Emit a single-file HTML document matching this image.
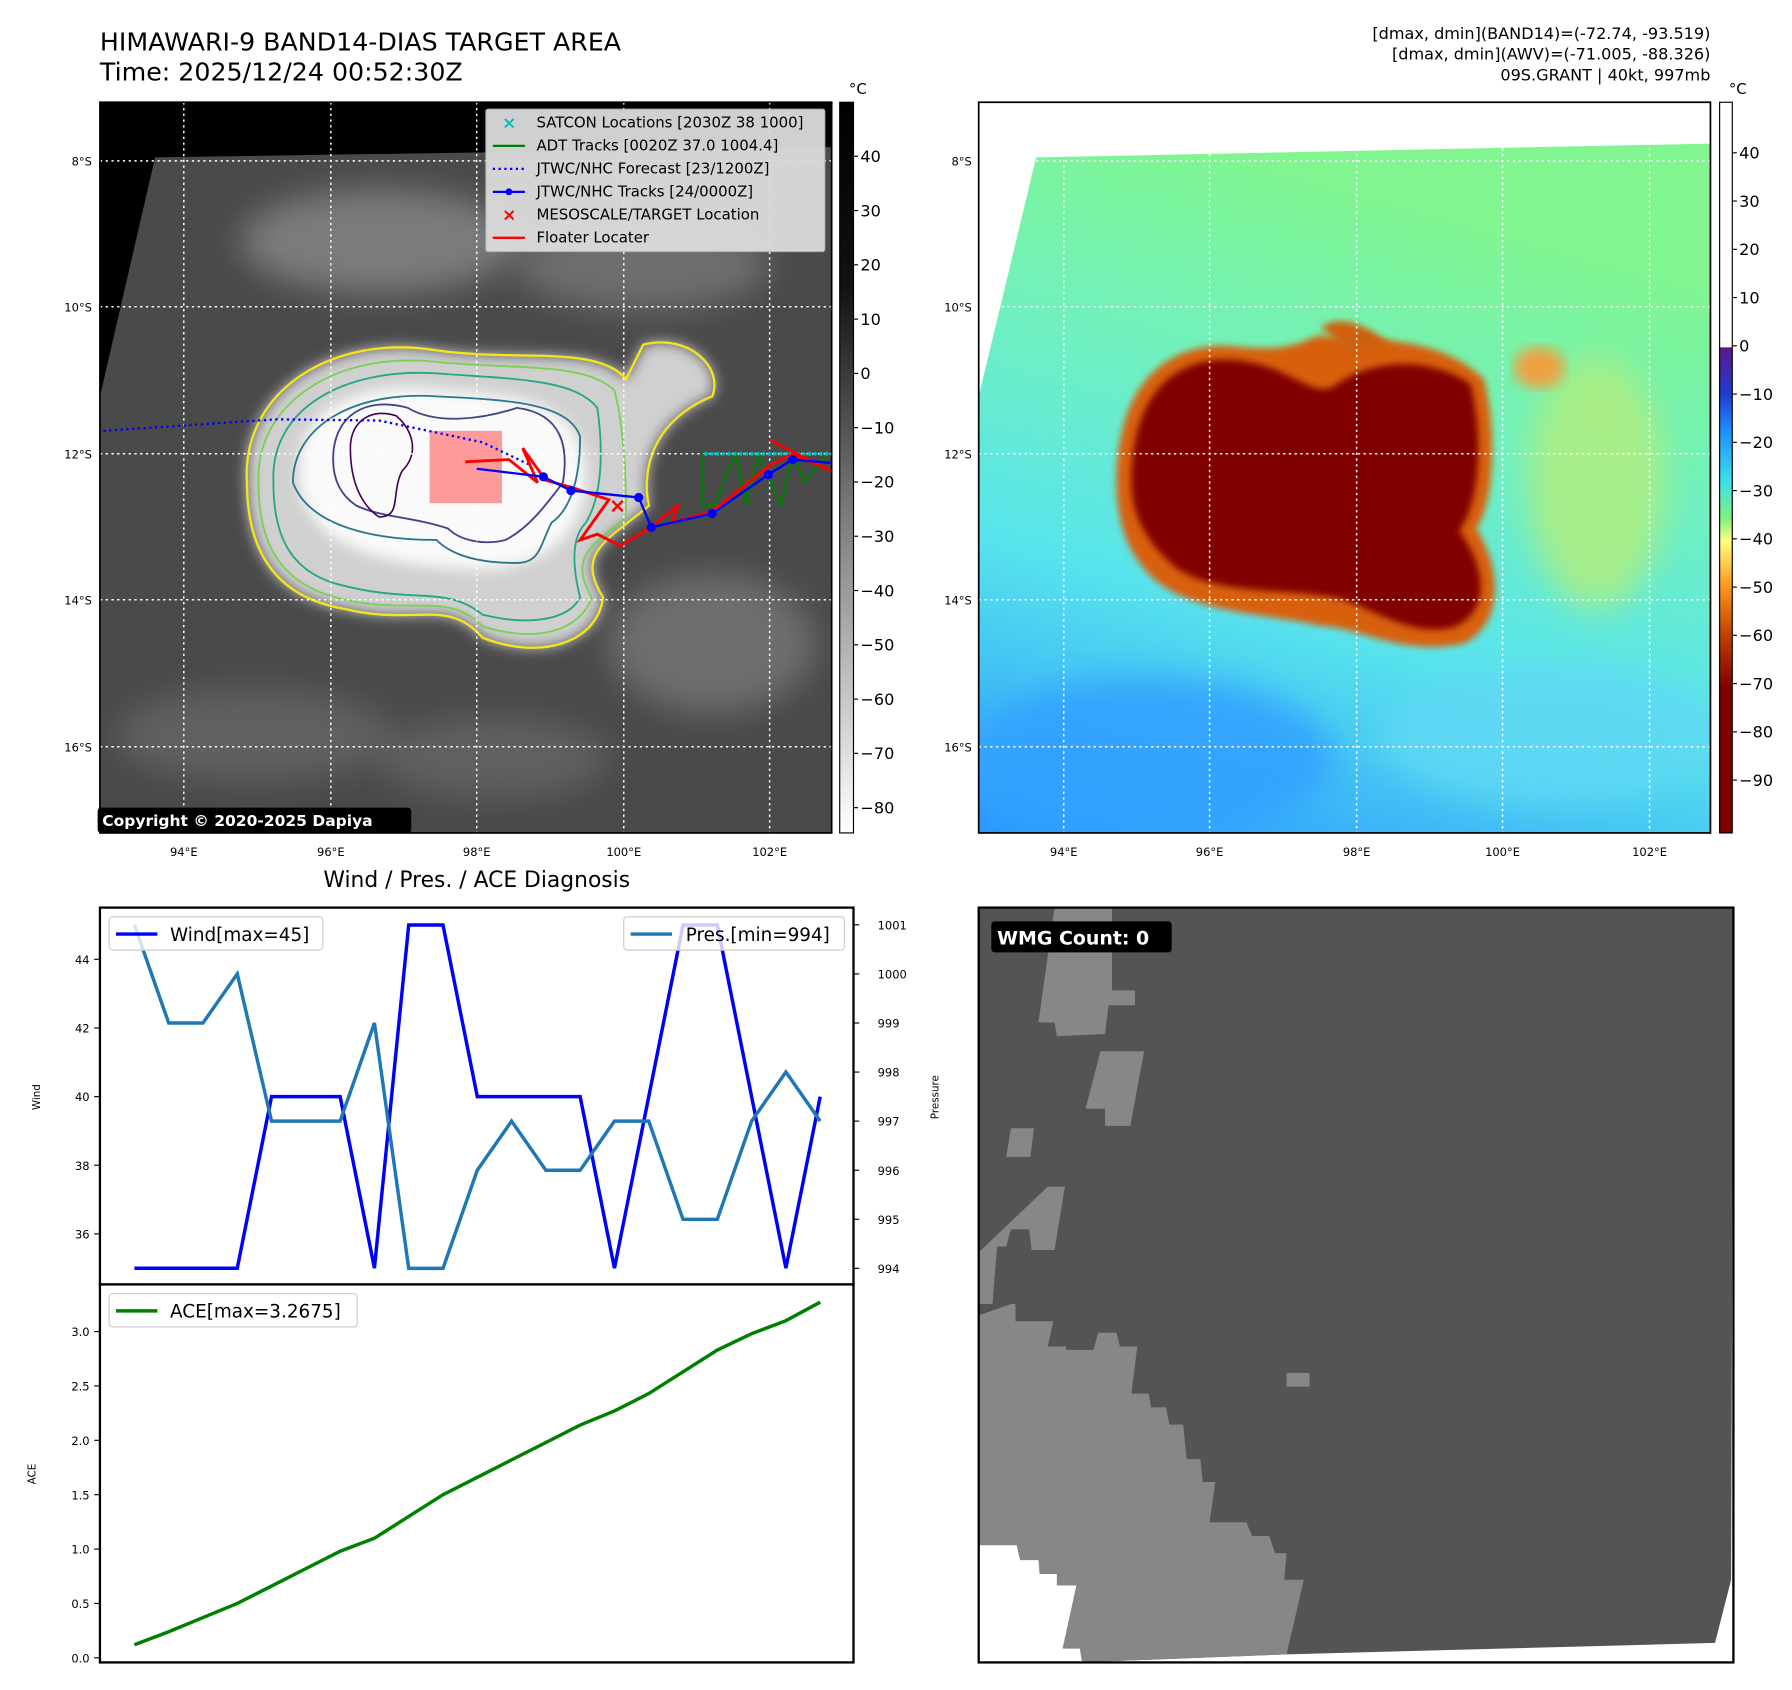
<!DOCTYPE html>
<html><head><meta charset="utf-8"><style>
html,body{margin:0;padding:0;background:#fff;}
svg{display:block;font-family:"DejaVu Sans","Liberation Sans",sans-serif;}
</style></head><body>
<svg id="root" width="1792" height="1690" viewBox="0 0 1560 1471" preserveAspectRatio="none" xmlns="http://www.w3.org/2000/svg">
<defs>
<filter id="blur6"><feGaussianBlur stdDeviation="6"/></filter>
<filter id="blur14"><feGaussianBlur stdDeviation="14"/></filter>
<filter id="blur3"><feGaussianBlur stdDeviation="3"/></filter>
<linearGradient id="gcb" x1="0" y1="0" x2="0" y2="1"><stop offset="0" stop-color="#000"/><stop offset="0.25" stop-color="#111"/><stop offset="0.55" stop-color="#777"/><stop offset="1" stop-color="#fff"/></linearGradient>
<linearGradient id="ccb" x1="0" y1="0" x2="0" y2="1">
<stop offset="0" stop-color="#fff"/><stop offset="0.335" stop-color="#fff"/><stop offset="0.336" stop-color="#5a1a8a"/><stop offset="0.4" stop-color="#1e3cd0"/><stop offset="0.45" stop-color="#1e90ff"/><stop offset="0.52" stop-color="#40e0e8"/><stop offset="0.57" stop-color="#80f080"/><stop offset="0.6" stop-color="#ffff80"/><stop offset="0.66" stop-color="#ff9a20"/><stop offset="0.73" stop-color="#c04000"/><stop offset="0.8" stop-color="#800000"/><stop offset="1" stop-color="#800000"/></linearGradient>
<linearGradient id="grn" x1="0.3" y1="0" x2="0" y2="1"><stop offset="0" stop-color="#80f590"/><stop offset="0.3" stop-color="#70f0c0"/><stop offset="0.6" stop-color="#58e4ec"/><stop offset="1" stop-color="#2a98ff"/></linearGradient>
<clipPath id="clipL"><rect x="87" y="89" width="637" height="636"/></clipPath>
<clipPath id="clipR"><rect x="852" y="89" width="637" height="636"/></clipPath>
</defs>

<text x="87" y="44" font-size="22">HIMAWARI-9 BAND14-DIAS TARGET AREA</text>
<text x="87" y="70" font-size="22">Time: 2025/12/24 00:52:30Z</text>
<g font-size="14" text-anchor="end">
<text x="1489" y="34">[dmax, dmin](BAND14)=(-72.74, -93.519)</text>
<text x="1489" y="52">[dmax, dmin](AWV)=(-71.005, -88.326)</text>
<text x="1489" y="70">09S.GRANT | 40kt, 997mb</text>
</g>

<!-- LEFT MAP -->
<g clip-path="url(#clipL)">
<rect x="87" y="89" width="637" height="636" fill="#000"/>
<polygon points="87,345 135,137 724,128 724,725 87,725" fill="#4a4a4a"/>
<g filter="url(#blur14)" opacity="0.8">
<ellipse cx="330" cy="210" rx="120" ry="45" fill="#888"/>
<ellipse cx="560" cy="230" rx="110" ry="40" fill="#777"/>
<ellipse cx="620" cy="560" rx="90" ry="60" fill="#777"/>
<ellipse cx="220" cy="640" rx="120" ry="40" fill="#666"/>
<ellipse cx="430" cy="660" rx="100" ry="35" fill="#666"/>
</g>
<path filter="url(#blur6)" d="M215,420 C210,340 290,290 380,305 C450,315 520,300 545,330 L560,300 C600,290 630,320 620,345 C560,370 560,420 565,440 C530,470 500,480 525,520 C520,560 470,575 420,555 C390,520 360,545 300,530 C240,520 215,480 215,420 Z" fill="#d0d0d0"/>
<path filter="url(#blur6)" d="M260,410 C260,350 320,330 390,340 C460,345 510,350 510,420 C505,470 470,500 400,495 C320,490 260,470 260,410 Z" fill="#fafafa"/>
<path d="M215,420 C210,340 290,290 380,305 C450,315 520,300 545,330 L560,300 C600,290 630,320 620,345 C560,370 560,420 565,440 C530,470 500,480 525,520 C520,560 470,575 420,555 C390,520 360,545 300,530 C240,520 215,480 215,420 Z" fill="none" stroke="#f5e51b" stroke-width="2"/>
<path d="M225,420 C222,350 295,305 380,315 C450,322 510,315 535,340 C545,380 545,430 545,450 C515,475 495,485 515,520 C505,550 465,560 420,545 C390,515 360,535 300,522 C245,510 225,475 225,420 Z" fill="none" stroke="#7ad151" stroke-width="1.6"/>
<path d="M238,420 C235,355 300,320 380,325 C450,330 500,330 520,355 C525,390 525,430 510,455 C495,470 500,500 505,520 C495,540 460,545 420,535 C390,510 360,525 300,510 C255,500 238,470 238,420 Z" fill="none" stroke="#22a884" stroke-width="1.6"/>
<path d="M255,420 C255,370 310,340 380,345 C440,348 495,350 505,380 C505,420 495,445 480,455 C470,475 470,490 450,490 C420,490 395,485 380,470 C330,470 270,460 255,420 Z" fill="none" stroke="#2a788e" stroke-width="1.6"/>
<path d="M290,400 C290,360 320,345 355,355 C380,370 420,365 450,355 C490,360 495,390 490,420 C475,440 460,460 440,470 C420,475 400,470 390,460 C360,450 330,450 310,440 C295,430 290,415 290,400 Z" fill="none" stroke="#414487" stroke-width="1.6"/>
<path d="M305,390 C305,365 325,355 345,362 C360,375 365,395 350,410 C340,430 350,450 330,450 C315,440 305,420 305,390 Z" fill="none" stroke="#440154" stroke-width="1.4"/>
<g stroke="#fff" stroke-width="1.3" stroke-dasharray="2,3">
<line x1="87" y1="140" x2="724" y2="140"/><line x1="87" y1="267" x2="724" y2="267"/><line x1="87" y1="395" x2="724" y2="395"/><line x1="87" y1="522" x2="724" y2="522"/><line x1="87" y1="650" x2="724" y2="650"/>
<line x1="160" y1="89" x2="160" y2="725"/><line x1="288" y1="89" x2="288" y2="725"/><line x1="415" y1="89" x2="415" y2="725"/><line x1="543" y1="89" x2="543" y2="725"/><line x1="670" y1="89" x2="670" y2="725"/>
</g>
<rect x="374" y="375" width="63" height="63" fill="#ff9a9a"/>
<polyline points="90,375 240,365 330,366 420,385 462,405" fill="none" stroke="#0000ff" stroke-width="2" stroke-dasharray="2,3"/>
<polyline points="612,395 612,440 622,440 640,395 650,440 660,395 680,440 690,395 700,420 720,395 M500,420 480,480" fill="none" stroke="#008000" stroke-width="2"/>
<polyline points="613,395 630,395 645,395 670,395 724,395" fill="none" stroke="#00c0c0" stroke-width="3" stroke-dasharray="3,2"/>
<polyline points="405,402 443,400 468,420 455,390 475,418 500,425 530,435 505,470 520,465 540,475 565,460 590,440 585,455 620,445 670,405 690,395 724,410 670,383" fill="none" stroke="#ff0000" stroke-width="2.5"/>
<polyline points="415,408 473,415 497,427 556,433 567,459 620,447 669,413 690,400 724,403" fill="none" stroke="#0000ff" stroke-width="2"/>
<g fill="#0000ff"><circle cx="473" cy="415" r="4"/><circle cx="497" cy="427" r="4"/><circle cx="556" cy="433" r="4"/><circle cx="567" cy="459" r="4"/><circle cx="620" cy="447" r="4"/><circle cx="669" cy="413" r="4"/><circle cx="690" cy="400" r="4"/></g>
<text x="530" y="446" fill="#ff0000" font-size="18" font-weight="bold">×</text>
</g>
<rect x="87" y="89" width="637" height="636" fill="none" stroke="#000" stroke-width="1.5"/>
<g font-size="13">
<rect x="423" y="95" width="295" height="124" fill="#dcdcdc" stroke="#bbb" rx="2" opacity="0.95"/>
<text x="437" y="112" fill="#00bfbf" font-weight="bold" font-size="15">×</text><text x="467" y="111">SATCON Locations [2030Z 38 1000]</text>
<line x1="429" y1="127" x2="457" y2="127" stroke="#008000" stroke-width="2"/><text x="467" y="131">ADT Tracks [0020Z 37.0 1004.4]</text>
<line x1="429" y1="147" x2="457" y2="147" stroke="#0000ff" stroke-width="2" stroke-dasharray="2,3"/><text x="467" y="151">JTWC/NHC Forecast [23/1200Z]</text>
<line x1="429" y1="167" x2="457" y2="167" stroke="#0000ff" stroke-width="2"/><circle cx="443" cy="167" r="3" fill="#0000ff"/><text x="467" y="171">JTWC/NHC Tracks [24/0000Z]</text>
<text x="437" y="192" fill="#ff0000" font-weight="bold" font-size="15">×</text><text x="467" y="191">MESOSCALE/TARGET Location</text>
<line x1="429" y1="207" x2="457" y2="207" stroke="#ff0000" stroke-width="2"/><text x="467" y="211">Floater Locater</text>
</g>
<g><rect x="85" y="703" width="273" height="22" rx="3" fill="#000"/><text x="89" y="719" fill="#fff" font-size="13.5" font-weight="bold">Copyright © 2020-2025 Dapiya</text></g>
<g font-size="10">
<g text-anchor="end"><text x="80" y="144">8°S</text><text x="80" y="271">10°S</text><text x="80" y="399">12°S</text><text x="80" y="526">14°S</text><text x="80" y="654">16°S</text></g>
<g text-anchor="middle"><text x="160" y="745">94°E</text><text x="288" y="745">96°E</text><text x="415" y="745">98°E</text><text x="543" y="745">100°E</text><text x="670" y="745">102°E</text></g>
</g>
<g>
<rect x="731" y="89" width="12" height="636" fill="url(#gcb)" stroke="#000" stroke-width="1"/>
<text x="739" y="82" font-size="13">°C</text>
<g font-size="14" id="gticks"></g>
</g>

<!-- RIGHT MAP -->
<g clip-path="url(#clipR)">
<rect x="852" y="89" width="637" height="636" fill="#fff"/>
<polygon points="852,345 902,137 1489,125 1489,725 852,725" fill="url(#grn)"/>
<g filter="url(#blur14)" opacity="0.85">
<ellipse cx="1000" cy="660" rx="160" ry="70" fill="#30a0ff"/>
<ellipse cx="1350" cy="640" rx="150" ry="60" fill="#60d8f4"/>
<ellipse cx="1390" cy="420" rx="60" ry="110" fill="#b0ee80"/>
</g>
<path filter="url(#blur3)" d="M972,420 C972,320 1030,295 1080,302 C1130,307 1140,292 1150,292 C1190,297 1250,290 1292,330 C1304,380 1300,440 1285,460 C1305,490 1312,540 1275,560 C1220,572 1180,545 1150,545 C1110,535 1050,535 1012,510 C985,490 972,460 972,420 Z" fill="#d86010"/>
<path d="M1150,285 C1170,270 1200,290 1210,300 L1180,310 Z" fill="#d06010" filter="url(#blur3)"/>
<ellipse cx="1340" cy="320" rx="22" ry="18" fill="#f0a040" filter="url(#blur6)"/>
<path filter="url(#blur3)" d="M985,420 C985,330 1035,308 1080,314 C1125,320 1140,345 1160,337 C1190,314 1240,308 1280,334 C1292,380 1288,440 1270,462 C1292,490 1300,532 1265,546 C1225,556 1190,525 1160,520 C1120,512 1060,518 1025,495 C1000,475 985,450 985,420 Z" fill="#800000"/>
<g stroke="#fff" stroke-width="1.3" stroke-dasharray="2,3">
<line x1="852" y1="140" x2="1489" y2="140"/><line x1="852" y1="267" x2="1489" y2="267"/><line x1="852" y1="395" x2="1489" y2="395"/><line x1="852" y1="522" x2="1489" y2="522"/><line x1="852" y1="650" x2="1489" y2="650"/>
<line x1="926" y1="89" x2="926" y2="725"/><line x1="1053" y1="89" x2="1053" y2="725"/><line x1="1181" y1="89" x2="1181" y2="725"/><line x1="1308" y1="89" x2="1308" y2="725"/><line x1="1436" y1="89" x2="1436" y2="725"/>
</g>
</g>
<rect x="852" y="89" width="637" height="636" fill="none" stroke="#000" stroke-width="1.5"/>
<g font-size="10">
<g text-anchor="end"><text x="846" y="144">8°S</text><text x="846" y="271">10°S</text><text x="846" y="399">12°S</text><text x="846" y="526">14°S</text><text x="846" y="654">16°S</text></g>
<g text-anchor="middle"><text x="926" y="745">94°E</text><text x="1053" y="745">96°E</text><text x="1181" y="745">98°E</text><text x="1308" y="745">100°E</text><text x="1436" y="745">102°E</text></g>
</g>
<g>
<rect x="1497" y="89" width="11" height="636" fill="url(#ccb)" stroke="#000" stroke-width="1"/>
<text x="1505" y="82" font-size="13">°C</text>
<g font-size="14" id="cticks"></g>
</g>

<!-- WIND / PRES CHART -->
<text x="415" y="772" font-size="19" text-anchor="middle">Wind / Pres. / ACE Diagnosis</text>
<g id="windchart"></g>
<g id="acechart"></g>

<!-- WMG PANEL -->
<g>
<rect x="852" y="790" width="657" height="657" fill="#fff"/>
<polygon points="852,790 1509,790 1507,1375 1493,1430 1120,1440 940,1447 852,1447" fill="#545454"/>
<g fill="#878787">
<polygon points="918,790 968,790 968,862 988,862 988,875 965,875 962,900 920,902 918,890 904,890"/>
<polygon points="958,915 996,915 984,980 962,980 962,965 945,965"/>
<polygon points="880,982 900,982 897,1007 876,1007"/>
<polygon points="912,1033 927,1033 918,1088 898,1088 896,1070 880,1070 876,1085 868,1085 864,1135 852,1135 852,1090"/>
<polygon points="852,1145 880,1135 884,1135 884,1150 917,1150 912,1172 928,1172 928,1175 952,1175 956,1160 972,1160 975,1172 990,1172 985,1213 1000,1213 1002,1225 1015,1225 1018,1240 1030,1240 1033,1270 1045,1270 1047,1290 1058,1290 1053,1325 1085,1325 1090,1337 1105,1337 1110,1352 1120,1352 1118,1375 1135,1375 1120,1440 940,1447 852,1447"/>
<rect x="1120" y="1195" width="20" height="12"/>
</g>
<polygon points="852,1345 885,1345 888,1358 904,1358 905,1370 920,1370 920,1380 937,1380 925,1435 940,1435 942,1447 852,1447" fill="#fff"/>
<rect x="852" y="790" width="657" height="657" fill="none" stroke="#000" stroke-width="2"/>
<rect x="863" y="802" width="157" height="27" rx="3" fill="#000"/>
<text x="868" y="822" fill="#fff" font-size="16.5" font-weight="bold">WMG Count: 0</text>
</g>

<script>
var NS="http://www.w3.org/2000/svg";
// ---- chart data ----
var windValues=[35,35,35,35,40,40,40,35,45,45,40,40,40,40,35,40,45,45,40,35,40];
var presValues=[1001,999,999,1000,997,997,997,999,994,994,996,997,996,996,997,997,995,995,997,998,997];
var aceValues=[0.12,0.24,0.37,0.5,0.66,0.82,0.98,1.1,1.3,1.5,1.66,1.82,1.98,2.14,2.27,2.43,2.63,2.83,2.98,3.1,3.27];
var windTicks=[36,38,40,42,44];
var presTicks=[994,995,996,997,998,999,1000,1001];
var aceTicks=[0.0,0.5,1.0,1.5,2.0,2.5,3.0];
var grayTicks=[40,30,20,10,0,-10,-20,-30,-40,-50,-60,-70,-80];
var colorTicks=[40,30,20,10,0,-10,-20,-30,-40,-50,-60,-70,-80,-90];

function mk(p,tag,attrs,txt){var e=document.createElementNS(NS,tag);for(var k in attrs)e.setAttribute(k,attrs[k]);if(txt!==undefined)e.textContent=txt;p.appendChild(e);return e;}
function xIdx(i){return 117+i*(714-117)/(windValues.length-1);}
function yWind(v){return 1074-(v-36)*(1074-835)/8;}
function yPres(v){return 1104-(v-994)*(1104-805)/7;}
function yAce(v){return 1443-v*(1443-1159)/3;}
function yGray(v){return 136+(40-v)*(703-136)/120;}
function yColor(v){return 301-v*(301-133)/40;}

var gt=document.getElementById('gticks');
grayTicks.forEach(function(v){var y=yGray(v);
 var l=mk(gt,'line',{x1:743,x2:747,y1:y,y2:y,stroke:'#000'});
 
 
 var t=mk(gt,'text',{x:749,y:y+5},(v<0?'\u2212'+(-v):''+v));
 
 });
var ct=document.getElementById('cticks');
colorTicks.forEach(function(v){var y=yColor(v);
 var l=mk(ct,'line',{x1:1508,x2:1512,y1:y,y2:y,stroke:'#000'});
 
 
 var t=mk(ct,'text',{x:1514,y:y+5},(v<0?'\u2212'+(-v):''+v));
 
 });

var wc=document.getElementById('windchart');
mk(wc,'rect',{x:87,y:790,width:656,height:328,fill:'#fff',stroke:'#000','stroke-width':2});
windTicks.forEach(function(v){var y=yWind(v);mk(wc,'line',{x1:82,x2:87,y1:y,y2:y,stroke:'#000'});
 var t=mk(wc,'text',{x:78,y:y+4,'font-size':10,'text-anchor':'end'},v);
 
 });
presTicks.forEach(function(v){var y=yPres(v);mk(wc,'line',{x1:743,x2:748,y1:y,y2:y,stroke:'#000'});
 var t=mk(wc,'text',{x:764,y:y+4,'font-size':10},v);
 
 });
var yl=mk(wc,'text',{x:0,y:0,'font-size':9,'text-anchor':'middle',transform:'translate(35,955) rotate(-90)'},'Wind');


var yp=mk(wc,'text',{x:0,y:0,'font-size':9,'text-anchor':'middle',transform:'translate(817,955) rotate(-90)'},'Pressure');


var wp=mk(wc,'polyline',{points:windValues.map(function(v,i){return xIdx(i)+','+yWind(v);}).join(' '),fill:'none',stroke:'#0000ff','stroke-width':3});


var pp=mk(wc,'polyline',{points:presValues.map(function(v,i){return xIdx(i)+','+yPres(v);}).join(' '),fill:'none',stroke:'#1f77b4','stroke-width':3});


var lg1=mk(wc,'g',{});


mk(lg1,'rect',{x:95,y:798,width:186,height:29,fill:'#fff',stroke:'#ccc','fill-opacity':0.8,rx:3});
mk(lg1,'line',{x1:101,x2:137,y1:813,y2:813,stroke:'#0000ff','stroke-width':3});
mk(lg1,'text',{x:148,y:819,'font-size':16},'Wind[max='+Math.max.apply(null,windValues)+']');
var lg2=mk(wc,'g',{});


mk(lg2,'rect',{x:543,y:798,width:192,height:29,fill:'#fff',stroke:'#ccc','fill-opacity':0.8,rx:3});
mk(lg2,'line',{x1:549,x2:585,y1:813,y2:813,stroke:'#1f77b4','stroke-width':3});
mk(lg2,'text',{x:597,y:819,'font-size':16},'Pres.[min='+Math.min.apply(null,presValues)+']');

var ac=document.getElementById('acechart');
mk(ac,'rect',{x:87,y:1118,width:656,height:329,fill:'#fff',stroke:'#000','stroke-width':2});
aceTicks.forEach(function(v){var y=yAce(v);mk(ac,'line',{x1:82,x2:87,y1:y,y2:y,stroke:'#000'});
 var t=mk(ac,'text',{x:78,y:y+4,'font-size':10,'text-anchor':'end'},v.toFixed(1));
 
 });
var ya=mk(ac,'text',{x:0,y:0,'font-size':9,'text-anchor':'middle',transform:'translate(31,1283) rotate(-90)'},'ACE');


var ap=mk(ac,'polyline',{points:aceValues.map(function(v,i){return xIdx(i)+','+yAce(v);}).join(' '),fill:'none',stroke:'#008000','stroke-width':3});


var lg3=mk(ac,'g',{});


mk(lg3,'rect',{x:95,y:1126,width:216,height:29,fill:'#fff',stroke:'#ccc','fill-opacity':0.8,rx:3});
mk(lg3,'line',{x1:101,x2:137,y1:1141,y2:1141,stroke:'#008000','stroke-width':3});
mk(lg3,'text',{x:148,y:1147,'font-size':16},'ACE[max=3.2675]');
</script>
</svg>
</body></html>
